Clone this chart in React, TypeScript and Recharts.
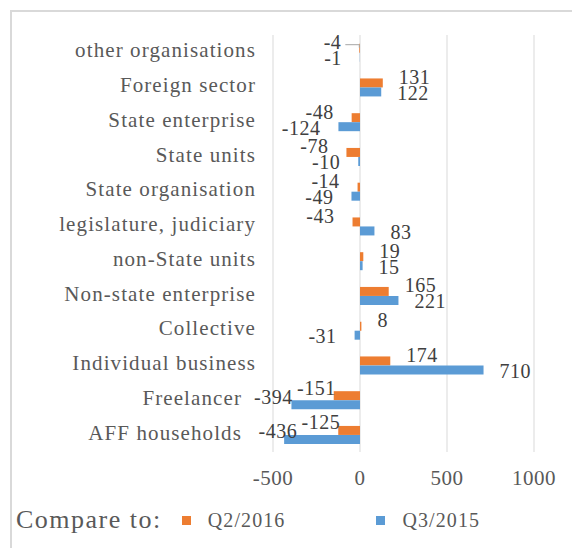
import { BarChart, Bar, XAxis, YAxis, CartesianGrid, Legend, LabelList } from 'recharts'

const categories = [
  'other organisations',
  'Foreign sector',
  'State enterprise',
  'State units',
  'State organisation',
  'legislature, judiciary',
  'non-State units',
  'Non-state enterprise',
  'Collective',
  'Individual business',
  'Freelancer',
  'AFF households',
]
const q2_2016 = [-4, 131, -48, -78, -14, -43, 19, 165, 8, 174, -151, -125]
const q3_2015 = [-1, 122, -124, -10, -49, 83, 15, 221, -31, 710, -394, -436]
const xTicks = [-500, 0, 500, 1000]

const ORANGE = '#ED7D31'
const BLUE = '#5B9BD5'
const FONT = '"Liberation Serif", "Times New Roman", serif'

const data = categories.map((name, i) => ({ name, q2: q2_2016[i], q3: q3_2015[i] }))

// rows where a bar runs far to the left; labels there are packed differently
const isLongNeg = (i: number) => Math.min(q2_2016[i], q3_2015[i]) < -300

function CategoryTick({ x, y, payload, index }: any) {
  const i = typeof index === 'number' ? index : categories.indexOf(payload.value)
  return (
    <text
      x={isLongNeg(i) ? x - 14 : x}
      y={y - 2}
      textAnchor="end"
      dominantBaseline="central"
      fontFamily={FONT}
      fontSize={21}
      letterSpacing={1.1}
      fill="#595959"
    >
      {payload.value}
    </text>
  )
}

function ValueTick({ x, y, payload }: any) {
  return (
    <text
      x={x}
      y={y + 26}
      textAnchor="middle"
      dominantBaseline="central"
      fontFamily={FONT}
      fontSize={21}
      letterSpacing={0.5}
      fill="#595959"
    >
      {payload.value}
    </text>
  )
}

// bar labels: outside end, except rows with a long negative bar,
// where both labels sit just above the bar ends (as in the source)
const makeLabel = (series: 'q2' | 'q3') => (props: any) => {
  const { x, y, width, height, value, index } = props
  const a = Number(x)
  const b = Number(x) + Number(width)
  const neg = value < 0
  const end = neg ? Math.min(a, b) : Math.max(a, b)
  const zero = neg ? Math.max(a, b) : Math.min(a, b)
  const perUnit = value !== 0 ? Math.abs(b - a) / Math.abs(value) : 0
  const cy = Number(y) + Number(height) / 2
  const i = typeof index === 'number' ? index : 0

  let tx = neg ? end - 18 : end + 16
  let ty = cy + (series === 'q2' ? -6 : 1)
  let anchor: 'start' | 'end' = neg ? 'end' : 'start'
  if (isLongNeg(i)) {
    const orangeEnd = zero + q2_2016[i] * perUnit
    tx = series === 'q2' ? end + 2 : orangeEnd - 41
    ty = cy - 8
    anchor = 'end'
  }
  const leader = series === 'q2' && Math.abs(value) < 6 && neg
  return (
    <g>
      {leader && (
        <polyline
          points={`${end - 14},${Number(y) + 1} ${end},${Number(y) + 1} ${end},${Number(y) + 4}`}
          fill="none"
          stroke="#a6a6a6"
          strokeWidth={1}
        />
      )}
      <text
        x={tx}
        y={ty}
        textAnchor={anchor}
        dominantBaseline="central"
        fontFamily={FONT}
        fontSize={20}
        letterSpacing={0.5}
        fill="#404040"
      >
        {value}
      </text>
    </g>
  )
}

function LegendContent({ payload }: any) {
  return (
    <div style={{ display: 'flex', alignItems: 'center', fontFamily: FONT, color: '#595959' }}>
      <span style={{ fontSize: 26, letterSpacing: 1.5, marginLeft: 16, marginRight: 20 }}>Compare to:</span>
      {(payload ?? []).map((p: any, i: number) => (
        <span
          key={p.value}
          style={{ display: 'flex', alignItems: 'center', marginRight: i === 0 ? 91 : 0 }}
        >
          <span style={{ width: 9, height: 9, background: p.color, display: 'inline-block', marginRight: 17 }} />
          <span style={{ fontSize: 20, letterSpacing: 1.1 }}>{p.value}</span>
        </span>
      ))}
    </div>
  )
}

export default function App() {
  return (
    <div style={{ position: 'absolute', left: 0, top: 0, width: 572, height: 548, overflow: 'hidden', background: '#fff' }}>
      <div
        style={{
          position: 'absolute',
          left: 10,
          top: 10,
          width: 600,
          height: 600,
          borderLeft: '2px solid #d9d9d9',
          borderTop: '2px solid #d9d9d9',
        }}
      />
      <BarChart
        width={572}
        height={548}
        data={data}
        layout="vertical"
        margin={{ top: 35, right: 38, bottom: 66, left: 0 }}
        barCategoryGap="25%"
        barGap={0}
      >
        <CartesianGrid horizontal={false} stroke="#d9d9d9" />
        <XAxis
          type="number"
          domain={[-500, 1000]}
          ticks={xTicks}
          axisLine={false}
          tickLine={false}
          tickSize={0}
          tickMargin={0}
          height={30}
          tick={<ValueTick />}
        />
        <YAxis
          type="category"
          dataKey="name"
          width={273}
          axisLine={false}
          tickLine={false}
          tickSize={0}
          tickMargin={17}
          interval={0}
          tick={<CategoryTick />}
        />
        <Legend
          layout="horizontal"
          verticalAlign="middle"
          content={<LegendContent />}
          wrapperStyle={{ left: 0, top: 505, width: 572 }}
        />
        <Bar dataKey="q2" name="Q2/2016" fill={ORANGE} isAnimationActive={false}>
          <LabelList dataKey="q2" content={makeLabel('q2')} />
        </Bar>
        <Bar dataKey="q3" name="Q3/2015" fill={BLUE} isAnimationActive={false}>
          <LabelList dataKey="q3" content={makeLabel('q3')} />
        </Bar>
      </BarChart>
    </div>
  )
}
